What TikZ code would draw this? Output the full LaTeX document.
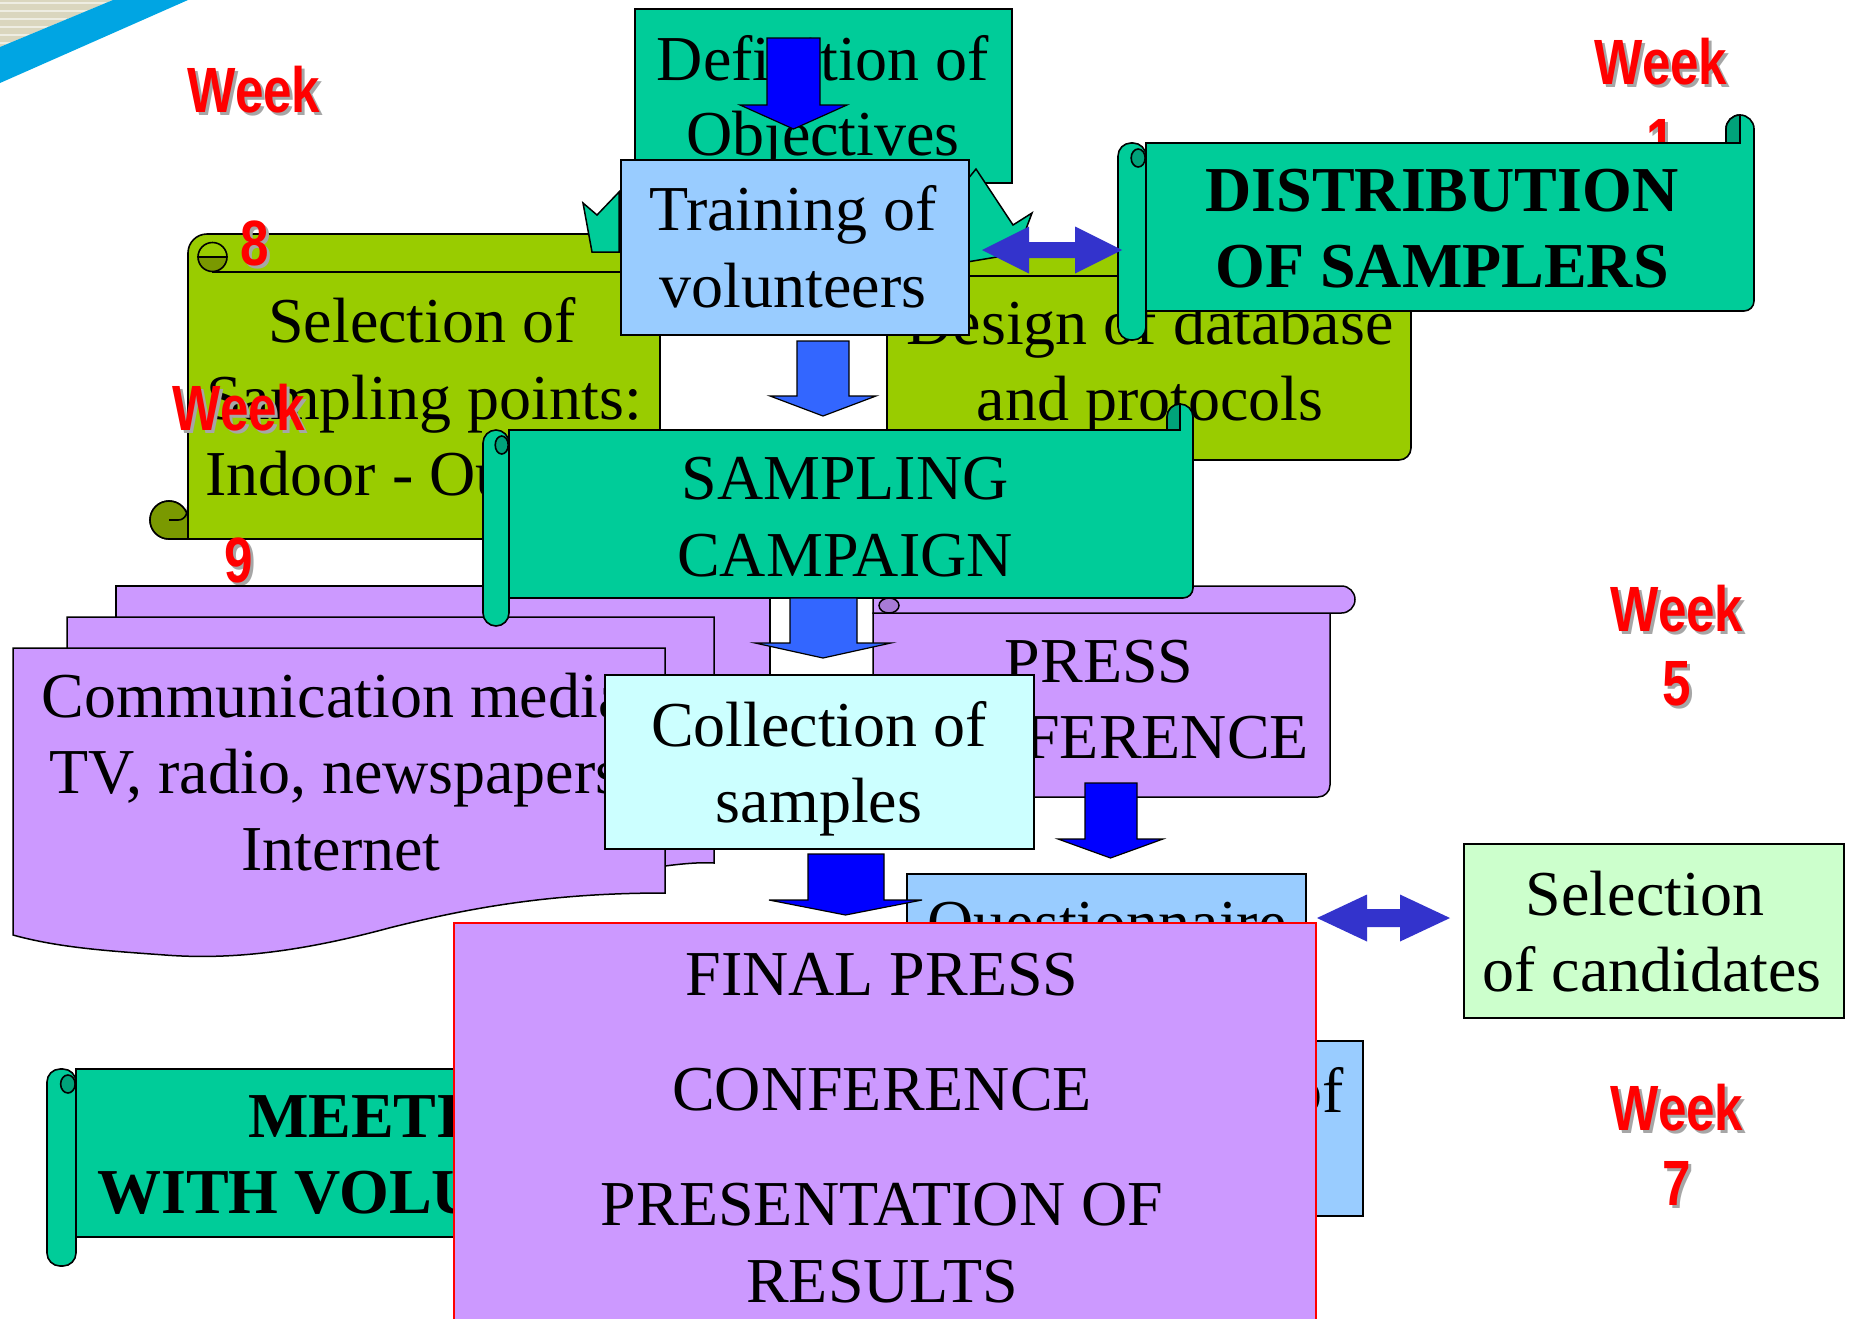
\documentclass[tikz,border=0pt]{standalone}
\usepackage{fontspec}
\setmainfont{Liberation Serif}
\newfontfamily\weekfont{Liberation Sans}
\usepackage{graphicx}
\definecolor{teal1}{HTML}{00CC99}
\definecolor{teal2}{HTML}{00A37A}
\definecolor{sgreen}{HTML}{99CC00}
\definecolor{sdark}{HTML}{7A9900}
\definecolor{lblue}{HTML}{99CCFF}
\definecolor{lpurple}{HTML}{CC99FF}
\definecolor{dpurple}{HTML}{A87AD6}
\definecolor{lcyan}{HTML}{CCFFFF}
\definecolor{lgreen}{HTML}{CCFFCC}
\definecolor{blueA}{HTML}{0000FF}
\definecolor{blueB}{HTML}{3366FF}
\definecolor{blueC}{HTML}{3333CC}
\definecolor{beige}{HTML}{DAD6BE}
\definecolor{bandblue}{HTML}{00A5E3}
\definecolor{wkshadow}{HTML}{A6A6A6}
\tikzset{
  bx/.style={draw=black, line width=1.8pt},
  scrollline/.style={draw=black, line width=1.6pt},
  txt/.style={anchor=base, inner sep=0pt, font=\fontsize{64}{77}\selectfont},
  btxt/.style={anchor=base, inner sep=0pt, font=\fontsize{64}{77}\selectfont\bfseries},
  wk/.style={anchor=base, inner sep=0pt, font=\weekfont\bfseries\fontsize{64}{64}\selectfont},
  blockarrow/.style={draw=black, line width=1.2pt},
}
% week label: name, x, y, text
\newcommand{\wklabel}[4]{%
  \node[wk, text=wkshadow] (#1s) at ({#2+3},{#3+3}) {\scalebox{0.8}[1]{#4}};
  \node[wk, text=red] (#1) at (#2,#3) {\scalebox{0.8}[1]{#4}};
}
% block down arrow: colour, shaft x1, shaft x2, top, head base, head x1, head x2, tip
\newcommand{\downblock}[8]{%
  \filldraw[blockarrow, fill=#1] (#2,#4) -- (#3,#4) -- (#3,#5) -- (#7,#5) -- ({(#6+#7)/2},#8) -- (#6,#5) -- (#2,#5) -- cycle;
}
% block double arrow: colour, xL, xR, yc, head length, head half, shaft half
\newcommand{\dblblock}[7]{%
  \fill[#1] (#2,#4) -- ({#2+#5},{#4-#6}) -- ({#2+#5},{#4-#7}) -- ({#3-#5},{#4-#7}) -- ({#3-#5},{#4-#6}) -- (#3,#4) -- ({#3-#5},{#4+#6}) -- ({#3-#5},{#4+#7}) -- ({#2+#5},{#4+#7}) -- ({#2+#5},{#4+#6}) -- cycle;
}
% scroll with left roll: x1, w, y1, body bottom, x2, roll bottom, fill, dark
\newcommand{\vscrollL}[8]{%
  \filldraw[fill=#7, scrollline] ({#1+#2},#3) -- ({#5-#2},#3) -- ({#5-#2},{#3-#2/2}) arc[start angle=180,end angle=360,radius={#2/2}] -- (#5,{#4-10}) arc[start angle=0,end angle=90,radius=10] -- ({#1+#2},#4) -- cycle;
  \filldraw[fill=#8, scrollline] ({#5-#2},#3) -- ({#5-#2},{#3-#2/2}) arc[start angle=180,end angle=270,radius={#2/2}] -- ({#5-#2/2},#3) -- cycle;
  \filldraw[fill=#7, scrollline, rounded corners=13pt] (#1,#3) rectangle ({#1+#2},#6);
  \filldraw[fill=#8, scrollline] ({#1+#2*0.72},{#3+15}) ellipse[x radius={#2/4}, y radius=9];
}
\begin{document}
\begin{tikzpicture}[x=1pt,y=-1pt]
\useasboundingbox (0,0) rectangle (1849,1318);
\clip (0,0) rectangle (1849,1318);
\fill[white] (0,0) rectangle (1849,1318);

% corner decoration
\fill[beige] (0,0) -- (113,0) -- (0,47) -- cycle;
\foreach \yy in {3,11,19,27,35,43} \draw[white!55!beige, line width=1.6pt] (0,\yy) -- ({113*(1-\yy/47)},\yy);
\fill[bandblue] (113,0) -- (188,0) -- (0,83) -- (0,47) -- cycle;

% week labels lying below shapes
\wklabel{w8a}{254}{112}{Week}
\wklabel{w1a}{1661}{84}{Week}
\wklabel{w1b}{1661}{163}{1}

% Definition of objectives
\node[bx, fill=teal1, minimum width=377pt, minimum height=174pt, anchor=north west] (def) at (634,8) {};
\node[txt] (def1) at (823,80) {Definition of};
\node[txt] (def2) at (823,155) {Objectives};
\downblock{blueA}{767}{820}{38}{105}{740}{847}{129}

% Selection of sampling points scroll
\filldraw[fill=sgreen, scrollline] (188,520) -- (188,253) arc[start angle=180,end angle=270,radius=19] -- (660,234) -- (660,539) -- (169,539) arc[start angle=90,end angle=360,radius=19] -- cycle;
\filldraw[fill=sdark, scrollline] (169,539) arc[start angle=90,end angle=360,radius=19] -- (188,539) -- cycle;
\draw[scrollline] (169,520) -- (178,520) .. controls (186,520) and (188,512) .. (188,503);
\filldraw[fill=sdark, scrollline] (198,257) arc[start angle=180,end angle=0,radius=14.5] -- cycle;
\draw[scrollline] (198,257) arc[start angle=180,end angle=360,radius=14.5];
\draw[scrollline] (212,272) -- (660,272);
\node[txt] (sel1) at (422,342) {Selection of};
\node[txt] (sel2) at (424,419) {Sampling points:};
\node[txt] (sel3) at (424,495) {Indoor - Outdoor};

% Design of database scroll
\filldraw[fill=sgreen, scrollline] (887,250) -- (1411,250) -- (1411,448) arc[start angle=0,end angle=90,radius=12] -- (887,460) -- cycle;
\draw[scrollline] (887,276) -- (1411,276);
\node[txt] (des1) at (1150,344) {Design of database};
\node[txt] (des2) at (1150,420) {and protocols};

% teal arrow shapes behind training
\filldraw[fill=teal1, line width=1.5pt] (619,192) -- (597,215) -- (583,203) -- (592,252) -- (619,252) -- cycle;
\filldraw[fill=teal1, line width=1.5pt] (967,180) -- (976,169) -- (1013,225) -- (1032,213) -- (1020,245) -- (997,257) -- (967,262) -- cycle;

% Training of volunteers
\node[bx, fill=lblue, minimum width=348pt, minimum height=175pt, anchor=north west] (train) at (620,159) {};
\node[txt] (tr1) at (793,230) {Training of};
\node[txt] (tr2) at (793,307) {volunteers};

% Distribution of samplers
\vscrollL{1118}{28}{143}{311}{1754}{340}{teal1}{teal2}
\node[btxt] (dis1) at (1442,211) {DISTRIBUTION};
\node[btxt] (dis2) at (1442,287) {OF SAMPLERS};

\dblblock{blueC}{982}{1122}{250}{47}{23.5}{8}
\downblock{blueB}{797}{849}{341}{396}{770}{876}{416}

\wklabel{w8b}{255}{265}{8}
\wklabel{w9a}{239}{430}{Week}
\wklabel{w9b}{239}{582}{9}

% communication media documents
\filldraw[fill=lpurple, line width=1.5pt] (116,586) rectangle (770,840);
\filldraw[fill=lpurple, line width=1.5pt] (67,617) -- (714,617) -- (714,863) .. controls (700,862) and (680,864) .. (665,866) -- (67,866) -- cycle;
\filldraw[fill=lpurple, line width=1.5pt] (13,648) -- (665,648) -- (665,893) .. controls (560,893) and (480,905) .. (389,928) .. controls (300,952) and (230,960) .. (165,955) .. controls (110,951) and (60,948) .. (13,935) -- cycle;
\node[txt] (com1) at (343,717) {Communication media:};
\node[txt] (com2) at (343,793) {TV, radio, newspapers,};
\node[txt] (com3) at (341,870) {Internet};

% Press conference scroll
\filldraw[fill=lpurple, line width=1.5pt] (873,613) -- (1330,613) -- (1330,785) arc[start angle=0,end angle=90,radius=12] -- (873,797) -- cycle;
\filldraw[fill=lpurple, line width=1.5pt] (873,586) -- (1341.5,586) arc[start angle=270,end angle=450,radius=13.5] -- (873,613) -- cycle;
\filldraw[fill=dpurple, line width=1.5pt] (889,605.5) ellipse[x radius=10, y radius=7.5];
\node[txt] (pr1) at (1099,682) {PRESS};
\node[txt] (pr2) at (1099,758) {CONFERENCE};

% Sampling campaign
\vscrollL{483}{26}{430}{598}{1193}{626}{teal1}{teal2}
\node[txt] (cam1) at (845,499) {SAMPLING};
\node[txt] (cam2) at (845,576) {CAMPAIGN};

\downblock{blueB}{790}{857}{598}{643}{755}{891}{658}

% Collection of samples
\node[bx, fill=lcyan, minimum width=429pt, minimum height=174pt, anchor=north west] (coll) at (604,674) {};
\node[txt] (col1) at (819,746) {Collection of};
\node[txt] (col2) at (819,822) {samples};

\downblock{blueA}{1085}{1137}{783}{839}{1058}{1163}{858}

% Meeting with volunteers
\vscrollL{47}{29}{1069}{1237}{900}{1266}{teal1}{teal2}
\node[btxt, anchor=base west] (mt1) at (248,1137) {MEETING};
\node[btxt, anchor=base west] (mt2) at (97,1213) {WITH VOLUNTEERS};

% Questionnaire and hidden box
\node[bx, fill=lblue, minimum width=399pt, minimum height=200pt, anchor=north west] (quest) at (906,873) {};
\node[txt] (q1) at (1107,944) {Questionnaire};
\node[bx, fill=lblue, minimum width=362pt, minimum height=175pt, anchor=north west] (anal) at (1000,1040) {};
\node[txt, anchor=base east] (an1) at (1344,1112) {of};

\downblock{blueA}{808}{884}{854}{900}{769}{922}{915}

% Final press conference
\node[draw=red, line width=1.5pt, fill=lpurple, minimum width=862pt, minimum height=430pt, anchor=north west] (final) at (453,922) {};
\node[txt] (f1) at (882,995) {FINAL PRESS};
\node[txt] (f2) at (882,1110) {CONFERENCE};
\node[txt] (f3) at (882,1225) {PRESENTATION OF};
\node[txt] (f4) at (882,1302) {RESULTS};

% Selection of candidates
\dblblock{blueC}{1317}{1450}{918}{50}{23.5}{9}
\node[bx, fill=lgreen, minimum width=380pt, minimum height=174pt, anchor=north west] (cand) at (1463,843) {};
\node[txt] (ca1) at (1645,915) {Selection};
\node[txt] (ca2) at (1652,991) {of candidates};

\wklabel{w5a}{1677}{631}{Week}
\wklabel{w5b}{1677}{705}{5}
\wklabel{w7a}{1677}{1130}{Week}
\wklabel{w7b}{1677}{1205}{7}
\end{tikzpicture}
\end{document}
